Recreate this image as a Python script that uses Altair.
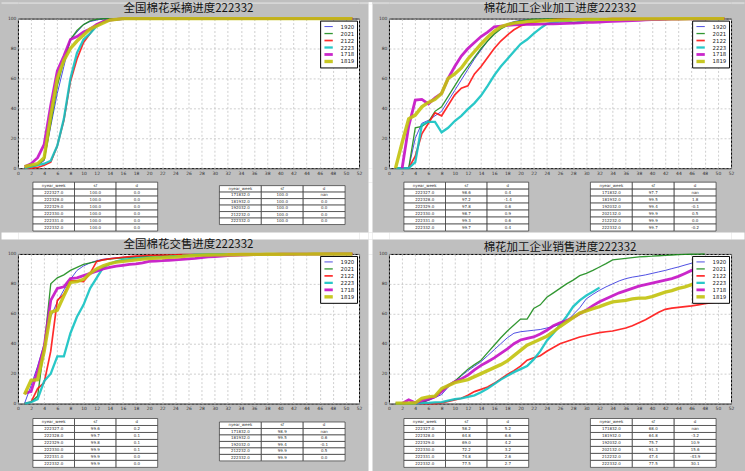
import altair as alt
import pandas as pd

# ---------------- data ----------------
SERIES = ["1920", "2021", "2122", "2223", "1718", "1819"]
COLORS = ["#3c3ce0", "#1c8c1c", "#ff1414", "#12c2c2", "#c40fc4", "#c2c20c"]
WIDTHS = [1.0, 1.3, 1.7, 2.3, 2.8, 3.4]
X_TICKS = list(range(0, 53, 2))
Y_TICKS = [0, 20, 40, 60, 80, 100]
TABLE_HEADER = ["nyear_week", "sf", "d"]

TITLE_PICK = "全国棉花采摘进度222332"
TITLE_PROC = "棉花加工企业加工进度222332"
TITLE_SELL = "全国棉花交售进度222332"
TITLE_MILL = "棉花加工企业销售进度222332"

# 全国棉花采摘进度 (weeks 1..)
PICK_1920 = [0, 1, 2, 5, 28, 50, 68, 86, 91, 96,
             98, 99, 100, 100, 100, 100, 100, 100, 100, 100,
             100, 100, 100, 100, 100, 100, 100, 100, 100, 100,
             100, 100, 100, 100, 100, 100, 100, 100, 100, 100,
             100, 100, 100, 100, 100, 100, 100, 100, 100, 100,
             100]
PICK_2021 = [0, 1, 2, 6, 30, 55, 72, 86, 92, 96,
             98.5, 99.5, 100, 100, 100, 100, 100, 100, 100, 100,
             100, 100, 100, 100, 100, 100, 100, 100, 100, 100,
             100, 100, 100, 100, 100, 100, 100, 100, 100, 100,
             100, 100, 100, 100, 100, 100, 100, 100, 100, 100,
             100]
PICK_2122 = [0, 0, 0.5, 2, 4, 15, 32, 58, 73, 84,
             90, 96, 98, 99, 99.5, 100, 100, 100, 100, 100,
             100, 100, 100, 100, 100, 100, 100, 100, 100, 100,
             100, 100, 100, 100, 100, 100, 100, 100, 100, 100,
             100, 100, 100, 100, 100, 100, 100, 100, 100, 100,
             100]
PICK_2223 = [0, 1, 2, 3, 5, 15, 33, 60, 77, 86,
             90, 95, 98, 99, 99.5, 99.8, 99.9, 100, 100, 100,
             100, 100, 100, 100, 100, 100, 100, 100, 100, 100,
             100, 100]
PICK_1718 = [1, 3, 7, 16, 42, 65, 75, 86, 88, 91,
             93, 96, 98, 99, 99.5, 100, 100, 100, 100, 100,
             100, 100, 100, 100, 100, 100, 100, 100, 100, 100,
             100, 100, 100, 100, 100, 100, 100, 100, 100, 100,
             100, 100, 100, 100, 100, 100, 100, 100, 100, 100,
             100]
PICK_1819 = [1, 2, 3, 7, 35, 60, 72, 80, 85, 89,
             93, 95, 97, 99, 99.5, 100, 100, 100, 100, 100,
             100, 100, 100, 100, 100, 100, 100, 100, 100, 100,
             100, 100, 100, 100, 100, 100, 100, 100, 100, 100,
             100, 100, 100, 100, 100, 100, 100, 100, 100, 100,
             100]

# 棉花加工企业加工进度
PROC_1920 = [0, 0, 0, 20, 30, 32, 35, 38, 45, 52,
             59, 66, 73, 79, 85, 90, 94, 96.5, 98, 98.8,
             99, 99.1, 99.2, 99.2, 99.3, 99.3, 99.3, 99.3, 99.4, 99.4,
             99.4, 99.4, 99.5, 99.5, 99.6, 99.6, 99.7, 99.7, 99.8, 99.8,
             99.8, 99.9, 99.9, 99.9, 99.9, 100, 100, 100, 100, 100,
             100]
PROC_2021 = [0, 0, 0, 27, 28, 31, 38, 41, 48, 55,
             62, 68, 74, 80, 85, 89.5, 93, 95.5, 97.5, 98.5,
             99.2, 99.6, 99.7, 99.8, 99.8, 99.8, 99.9, 99.9, 99.9, 99.9,
             99.9, 99.9, 100, 100, 100, 100, 100, 100, 100, 100,
             100, 100, 100, 100, 100, 100, 100, 100, 100, 100,
             100]
PROC_2122 = [0, 0, 0, 8, 23, 30, 37, 35, 42, 49,
             53.5, 55, 63, 68, 74, 80, 85, 89, 92.5, 95,
             96.5, 97.5, 98.5, 99, 99.3, 99.5, 99.6, 99.7, 99.8, 99.8,
             99.9, 99.9, 99.9, 100, 100, 100, 100, 100, 100, 100,
             100, 100, 100, 100, 100, 100, 100, 100, 100, 100,
             100]
PROC_2223 = [0, 0, 0, 4, 29, 31, 31, 24, 27, 31.5,
             35, 39.5, 43.5, 48.5, 55, 62, 68, 73, 78, 83,
             86, 90, 93.5, 96.5, 97.5, 98, 98.6, 97.2, 97.8, 98.7,
             99.3, 99.7]
PROC_1718 = [None, 0, 28, 45.5, 46, 43, 47, 50, 60, 68,
             75, 80, 84, 88, 91, 94.5, 95, 95.5, 95.8, 96,
             96.1, 96.2, 96.3, 96.4, 96.5, 96.6, 96.8, 97, 97.2, 97.4,
             97.5, 97.7, 97.9, 98.1, 98.3, 98.5, 98.7, 98.9, 99.1, 99.3,
             99.4, 99.5, 99.6, 99.7, 99.8, 99.8, 99.9, 99.9, 100, 100,
             100]
PROC_1819 = [0, 17, 33, 35.5, 41, 44, 46, 50, 60, 63,
             67, 73, 78, 83, 87.5, 91.5, 94.5, 96, 97, 97.5,
             98, 98.2, 98.4, 98.6, 98.8, 99, 99.1, 99.2, 99.3, 99.4,
             99.4, 99.5, 99.5, 99.6, 99.6, 99.7, 99.7, 99.7, 99.8, 99.8,
             99.8, 99.9, 99.9, 99.9, 99.9, 100, 100, 100, 100, 100,
             100]

# 全国棉花交售进度
SELL_1920 = [0, 12, 25, 40, 58, 68, 76, 83, 89, 92,
             94, 95.5, 96.5, 97, 97.5, 97.8, 98, 98.2, 98.4, 98.5,
             98.6, 98.7, 98.8, 98.9, 99, 99.1, 99.2, 99.2, 99.3, 99.3,
             99.4, 99.4, 99.5, 99.5, 99.6, 99.6, 99.7, 99.7, 99.8, 99.8,
             99.8, 99.9, 99.9, 99.9, 99.9, 100, 100, 100, 100, 100,
             100]
SELL_2021 = [0, 1, 5, 38, 80, 84, 86, 89, 91, 93,
             94, 95, 96, 96.5, 97, 97.3, 97.6, 97.9, 98.2, 98.5,
             98.7, 98.9, 99, 99.1, 99.2, 99.3, 99.4, 99.5, 99.6, 99.7,
             99.7, 99.8, 99.8, 99.8, 99.9, 99.9, 99.9, 99.9, 99.9, 100,
             100, 100, 100, 100, 100, 100, 100, 100, 100, 100,
             100]
SELL_2122 = [0, 1, 10, 14, 35, 69, 73, 82, 82, 81.5,
             87, 95, 96, 96.8, 97.3, 97.8, 98.2, 98.6, 98.8, 99,
             99.1, 99.2, 99.3, 99.4, 99.5, 99.5, 99.6, 99.6, 99.7, 99.8,
             99.9, 99.9, 99.9, 99.9, 100, 100, 100, 100, 100, 100,
             100, 100, 100, 100, 100, 100, 100, 100, 100, 100,
             100]
SELL_2223 = [0, 1, 3, 15, 20, 31.5, 31.5, 47, 58, 66,
             77, 84, 91, 93.5, 95, 96, 96.5, 97, 97.3, 97.6,
             97.8, 98, 98.2, 98.5, 98.7, 99, 99.6, 99.7, 99.8, 99.9,
             99.9, 99.9]
SELL_1718 = [7, 8, 22, 38, 69, 77, 78, 83.5, 84, 85.5,
             87, 88.5, 90, 91, 91.8, 92.4, 93, 93.4, 94, 95,
             95.3, 95.5, 95.8, 96.1, 96.4, 96.7, 97, 97.5, 98, 98.3,
             98.6, 98.9, 99.1, 99.3, 99.4, 99.5, 99.6, 99.7, 99.7, 99.8,
             99.8, 99.8, 99.9, 99.9, 99.9, 99.9, 100, 100, 100, 100,
             100]
SELL_1819 = [6, 15.5, 16, 35, 61, 62.5, 72, 81, 81.5, 83,
             87, 90, 92, 93.5, 94.5, 95, 95.5, 96, 96.5, 97,
             97.3, 97.5, 97.8, 98, 98.3, 98.7, 99, 99.2, 99.3, 99.4,
             99.4, 99.5, 99.5, 99.6, 99.6, 99.7, 99.7, 99.8, 99.8, 99.8,
             99.9, 99.9, 99.9, 99.9, 100, 100, 100, 100, 100, 100,
             100]

# 棉花加工企业销售进度
MILL_1920 = [0, 0, 0, 0, 0.5, 2, 4, 6, 11, 15,
             18.5, 22, 25, 28, 32, 36, 40, 44, 47, 48,
             48.5, 49, 49.5, 50.5, 51.5, 53, 55, 59.5, 64, 70,
             73, 75.7, 78, 80, 82, 83.5, 84.5, 85.2, 86, 87,
             88, 89, 90.2, 91.3, 92.6, 93.8, 94.8, 95.6, 96.4, 97.2,
             98]
MILL_2021 = [0, 0, 0, 0, 1, 2.5, 5, 8, 12, 15,
             19, 23, 26, 29, 34, 39, 44, 48.5, 52.5, 56.5,
             56.5, 63.5, 66, 71, 74, 77, 80, 82.5, 85.5, 87,
             89, 91.3, 93.5, 96, 96.5, 97, 97.5, 98, 98.3, 98.5,
             98.8, 99, 99.3, 99.5, 99.7, 99.8, 99.9, 100]
MILL_2122 = [0, 0, 0, 0, 0, 0, 0, 0.5, 1.5, 2.5,
             3.5, 5.5, 8, 9.5, 11, 13.5, 16.5, 19.5, 22, 25,
             29, 30.5, 32, 35, 37.5, 40, 41.5, 43, 44.5, 45.5,
             46.5, 47.4, 48, 48.5, 49.5, 50.5, 52, 54, 56, 58.5,
             61, 63, 63.8, 64.3, 64.8, 65.3, 66, 66.7, 67.5, 68,
             68.5]
MILL_2223 = [0, 0, 0, 0, 0.3, 0.5, 0.8, 1, 2, 3,
             3.5, 4.5, 5.5, 7.5, 10, 13, 16, 18.5, 21, 23,
             25, 29.5, 35, 42, 47, 52.5, 58.2, 64.8, 69.0, 72.2,
             74.8, 77.5]
MILL_1718 = [None, 0, 2.5, 0.5, 2, 3, 4.5, 8, 12, 14.5,
             16.5, 19, 22.5, 25.5, 28, 30.5, 33.5, 36.5, 40, 42.5,
             43.5, 44.5, 46.5, 49, 52, 54, 55.5, 57.5, 60, 62.5,
             65.5, 68, 70, 72, 74, 75.5, 77, 78.5, 79.5, 80.5,
             81.5, 82.5, 83.5, 85, 87, 89, 90.5, 91.5, 92.5, 93.5,
             94.5]
MILL_1819 = [0.3, 0.3, 0.3, 0.5, 3.5, 4.5, 5, 10, 12, 14,
             15, 16, 18, 20, 22, 24, 26, 28.5, 32, 35.5,
             39, 41, 43, 45, 48, 51.5, 54.5, 57.5, 60.5, 62,
             63.5, 64.8, 66.5, 68, 68.5, 69, 70, 70.5, 70.5, 71.5,
             73, 74.5, 75.5, 77, 78, 79.5, 80.5, 81.5, 82.5, 83.5,
             84.5]

NAN = float("nan")
# tables: recent weeks of 2223 and same week in previous years
PICK_T1_KEY = [222327.0, 222328.0, 222329.0, 222330.0, 222331.0, 222332.0]
PICK_T1_SF = [100.0, 100.0, 100.0, 100.0, 100.0, 100.0]
PICK_T1_D = [0.0, 0.0, 0.0, 0.0, 0.0, 0.0]
PICK_T2_KEY = [171832.0, 181932.0, 192032.0, 212232.0, 222332.0]
PICK_T2_SF = [100.0, 100.0, 100.0, 100.0, 100.0]
PICK_T2_D = [NAN, 0.0, 0.0, 0.0, 0.0]

PROC_T1_KEY = [222327.0, 222328.0, 222329.0, 222330.0, 222331.0, 222332.0]
PROC_T1_SF = [98.6, 97.2, 97.8, 98.7, 99.3, 99.7]
PROC_T1_D = [0.4, -1.4, 0.6, 0.9, 0.6, 0.4]
PROC_T2_KEY = [171832.0, 181932.0, 192032.0, 202132.0, 212232.0, 222332.0]
PROC_T2_SF = [97.7, 99.5, 99.4, 99.9, 99.9, 99.7]
PROC_T2_D = [NAN, 1.8, -0.1, 0.5, 0.0, -0.2]

SELL_T1_KEY = [222327.0, 222328.0, 222329.0, 222330.0, 222331.0, 222332.0]
SELL_T1_SF = [99.6, 99.7, 99.8, 99.9, 99.9, 99.9]
SELL_T1_D = [0.2, 0.1, 0.1, 0.1, 0.0, 0.0]
SELL_T2_KEY = [171832.0, 181932.0, 192032.0, 212232.0, 222332.0]
SELL_T2_SF = [98.9, 99.5, 99.4, 99.9, 99.9]
SELL_T2_D = [NAN, 0.6, -0.1, 0.5, 0.0]

MILL_T1_KEY = [222327.0, 222328.0, 222329.0, 222330.0, 222331.0, 222332.0]
MILL_T1_SF = [58.2, 64.8, 69.0, 72.2, 74.8, 77.5]
MILL_T1_D = [5.2, 6.6, 4.2, 3.2, 2.6, 2.7]
MILL_T2_KEY = [171832.0, 181932.0, 192032.0, 202132.0, 212232.0, 222332.0]
MILL_T2_SF = [68.0, 64.8, 75.7, 91.3, 47.4, 77.5]
MILL_T2_D = [NAN, -3.2, 10.9, 15.6, -43.9, 30.1]

# ---------------- layout ----------------
FONT = "DejaVu Sans"
CJK = "Noto Sans CJK SC"
BG = "#bfbfbf"
COL_W = [17, 342, 9, 4, 17, 343, 13]
ROW_H = [2, 15, 150, 14, 50, 7, 15, 150, 15, 53]
DUMMY = pd.DataFrame({"k": [0]})


def fmt(v):
    return f"{v:.1f}"


def build_line(title, series_values, width, height):
    recs = []
    for name, vals in zip(SERIES, series_values):
        for i, v in enumerate(vals):
            if v is None:
                continue
            recs.append({"week": i + 1, "value": v, "series": name})
    df = pd.DataFrame(recs)
    leg = alt.Legend(title=None, orient="top-right", offset=2, padding=2.5,
                     fillColor="white", strokeColor="black", cornerRadius=0,
                     labelFont=FONT, labelFontSize=5.4, labelColor="#222",
                     symbolType="stroke", symbolSize=70, rowPadding=0,
                     clipHeight=7, labelOffset=6)
    xaxis = alt.Axis(values=X_TICKS, title=None, grid=True, gridDash=[2, 2],
                     gridColor="#b8b8b8", gridWidth=0.7, ticks=False, domain=False,
                     labelFont=FONT, labelFontSize=4.5, labelColor="#333",
                     labelPadding=2, labelFlush=False, labelOverlap=False)
    yaxis = alt.Axis(values=Y_TICKS, title=None, grid=True, gridDash=[2, 2],
                     gridColor="#b8b8b8", gridWidth=0.7, ticks=False, domain=False,
                     labelFont=FONT, labelFontSize=4.5, labelColor="#333",
                     labelPadding=2, labelFlush=False, labelOverlap=False)
    return alt.Chart(df).mark_line(opacity=0.9).encode(
        x=alt.X("week:Q", scale=alt.Scale(domain=[0, 52], nice=False, zero=False), axis=xaxis),
        y=alt.Y("value:Q", scale=alt.Scale(domain=[0, 100], nice=False), axis=yaxis),
        color=alt.Color("series:N", scale=alt.Scale(domain=SERIES, range=COLORS), legend=leg),
        strokeWidth=alt.StrokeWidth("series:N",
                                    scale=alt.Scale(type="ordinal", domain=SERIES, range=WIDTHS),
                                    legend=leg),
    ).properties(
        width=width, height=height,
        title=alt.TitleParams(title, font=CJK, fontSize=11.5, fontWeight="normal",
                              color="#111", offset=0, dy=3, frame="group", anchor="middle"),
        view=alt.ViewBackground(fill="white", stroke="black", strokeWidth=1),
    )


def build_table(t1, t2, width, height):
    recs = []
    layouts = [(15.0, 41.7), (202.0, 42.0)]
    for (x_left, cw), (keys, sfs, ds) in zip(layouts, [t1, t2]):
        rows = [TABLE_HEADER] + [[fmt(k), fmt(s), fmt(d)] for k, s, d in zip(keys, sfs, ds)]
        n = len(rows)
        rh = 7.0 if n >= 7 else 6.5
        top = 0.0 if n >= 7 else 3.5
        for r, row in enumerate(rows):
            for c, txt in enumerate(row):
                x0 = x_left + c * cw
                y0 = top + r * rh
                recs.append({"x0": x0, "x1": x0 + cw, "y0": y0, "y1": y0 + rh,
                             "xm": x0 + cw / 2, "ym": y0 + rh / 2, "label": txt})
    df = pd.DataFrame(recs)
    xs = alt.Scale(domain=[0, width], nice=False, zero=False)
    ys = alt.Scale(domain=[0, height], nice=False, zero=False, reverse=True)
    cells = alt.Chart(df).mark_rect(fill="white", stroke="#333", strokeWidth=0.7).encode(
        x=alt.X("x0:Q", scale=xs, axis=None), x2="x1:Q",
        y=alt.Y("y0:Q", scale=ys, axis=None), y2="y1:Q")
    texts = alt.Chart(df).mark_text(font=FONT, fontSize=4, color="#333", baseline="middle",
                                    align="center").encode(
        x=alt.X("xm:Q", scale=xs, axis=None),
        y=alt.Y("ym:Q", scale=ys, axis=None),
        text="label:N")
    return alt.layer(cells, texts).properties(width=width, height=height)


def tile(w, h, fill=None):
    ch = alt.Chart(DUMMY).mark_point(opacity=0, size=0, strokeWidth=0).encode(
        x=alt.value(w / 2), y=alt.value(h / 2))
    if fill:
        return ch.properties(width=w, height=h,
                             view=alt.ViewBackground(fill=fill, stroke="transparent"))
    return ch.properties(width=w, height=h)


tl_line = build_line(TITLE_PICK, [PICK_1920, PICK_2021, PICK_2122, PICK_2223, PICK_1718, PICK_1819], 342, 150)
tr_line = build_line(TITLE_PROC, [PROC_1920, PROC_2021, PROC_2122, PROC_2223, PROC_1718, PROC_1819], 343, 150)
bl_line = build_line(TITLE_SELL, [SELL_1920, SELL_2021, SELL_2122, SELL_2223, SELL_1718, SELL_1819], 342, 150)
br_line = build_line(TITLE_MILL, [MILL_1920, MILL_2021, MILL_2122, MILL_2223, MILL_1718, MILL_1819], 343, 150)

tl_tab = build_table((PICK_T1_KEY, PICK_T1_SF, PICK_T1_D), (PICK_T2_KEY, PICK_T2_SF, PICK_T2_D), 342, 50)
tr_tab = build_table((PROC_T1_KEY, PROC_T1_SF, PROC_T1_D), (PROC_T2_KEY, PROC_T2_SF, PROC_T2_D), 343, 50)
bl_tab = build_table((SELL_T1_KEY, SELL_T1_SF, SELL_T1_D), (SELL_T2_KEY, SELL_T2_SF, SELL_T2_D), 342, 53)
br_tab = build_table((MILL_T1_KEY, MILL_T1_SF, MILL_T1_D), (MILL_T2_KEY, MILL_T2_SF, MILL_T2_D), 343, 53)

content = {(2, 1): tl_line, (2, 5): tr_line, (4, 1): tl_tab, (4, 5): tr_tab,
           (7, 1): bl_line, (7, 5): br_line, (9, 1): bl_tab, (9, 5): br_tab}

cells = []
for r, h in enumerate(ROW_H):
    for c, w in enumerate(COL_W):
        if (r, c) in content:
            cells.append(content[(r, c)])
        elif c == 3 or r == 5:
            cells.append(tile(w, h, "white"))
        elif r == 0:
            cells.append(tile(w, h, "#d6d6d6"))
        else:
            cells.append(tile(w, h))

chart = alt.concat(*cells, columns=len(COL_W), spacing=0, bounds="flush").resolve_scale(
    x="independent", y="independent", color="independent", strokeWidth="independent"
).resolve_legend(
    color="independent", strokeWidth="independent"
).properties(
    padding=0, background=BG
).configure_view(stroke="transparent")

chart.save("out.html", embed_options={"renderer": "svg", "actions": False})
